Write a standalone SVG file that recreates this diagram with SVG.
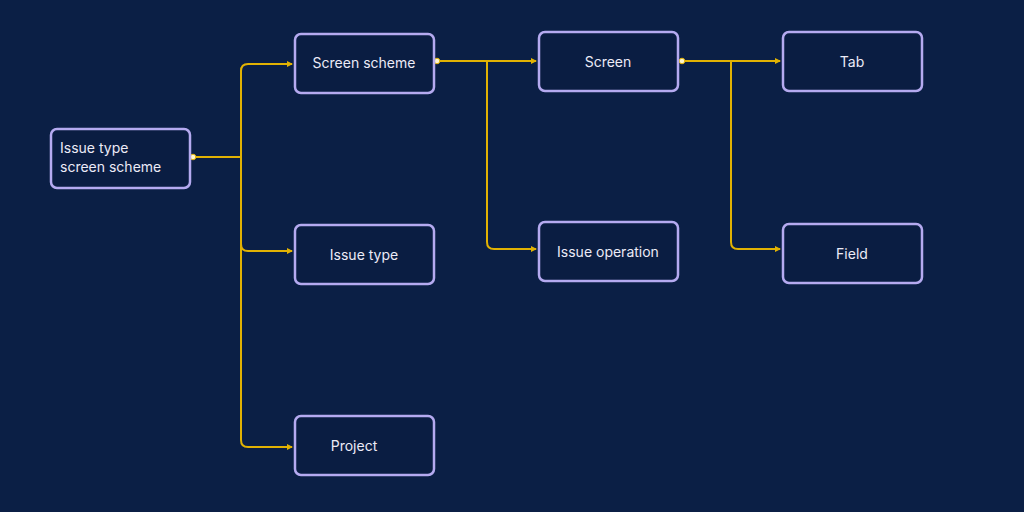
<svg xmlns="http://www.w3.org/2000/svg" width="1024" height="512" viewBox="0 0 1024 512">
<defs>
<marker id="arr" viewBox="0 0 6 6" refX="5" refY="3" markerWidth="6" markerHeight="6" markerUnits="userSpaceOnUse" orient="auto">
<path d="M0,0 L6,3 L0,6 z" fill="#e2b203"/>
</marker>
<style>
.box{fill:#0a1d42;stroke:#b5aaf0;stroke-width:2.5}
.lbl{font-family:Inter,"Noto Sans","Liberation Sans",sans-serif;font-size:14px;fill:#ecebf7}
.mid{text-anchor:middle;dominant-baseline:central}
.ln{fill:none;stroke:#e2b203;stroke-width:2}
.dot{fill:#fff6cc;stroke:#e2b203;stroke-width:1}
</style>
</defs>
<rect width="1024" height="512" fill="#0b1f45"/>
<g id="connectors">
<path class="ln" d="M193,157 H241"/>
<path class="ln" d="M241,157 V71 Q241,64 248,64 H292" marker-end="url(#arr)"/>
<path class="ln" d="M241,157 V244 Q241,251 248,251 H292" marker-end="url(#arr)"/>
<path class="ln" d="M241,157 V440 Q241,447 248,447 H292" marker-end="url(#arr)"/>
<path class="ln" d="M437,61 H536" marker-end="url(#arr)"/>
<path class="ln" d="M487,61 V242 Q487,249 494,249 H536" marker-end="url(#arr)"/>
<path class="ln" d="M682,61 H780" marker-end="url(#arr)"/>
<path class="ln" d="M731,61 V242 Q731,249 738,249 H780" marker-end="url(#arr)"/>
<circle class="dot" cx="193" cy="157" r="2.8"/>
<circle class="dot" cx="437" cy="61" r="2.8"/>
<circle class="dot" cx="682" cy="61" r="2.8"/>
</g>
<g id="node-issue-type-screen-scheme">
<rect class="box" x="51" y="129" width="139" height="59" rx="6"/>
<text class="lbl" x="60" y="153">Issue type</text>
<text class="lbl" x="60" y="172">screen scheme</text>
</g>
<g id="node-screen-scheme">
<rect class="box" x="295" y="34" width="139" height="59" rx="6"/>
<text class="lbl mid" x="364" y="62">Screen scheme</text>
</g>
<g id="node-issue-type">
<rect class="box" x="295" y="225" width="139" height="59" rx="6"/>
<text class="lbl mid" x="364" y="254">Issue type</text>
</g>
<g id="node-project">
<rect class="box" x="295" y="416" width="139" height="59" rx="6"/>
<text class="lbl mid" x="354" y="445">Project</text>
</g>
<g id="node-screen">
<rect class="box" x="539" y="32" width="139" height="59" rx="6"/>
<text class="lbl mid" x="608" y="61">Screen</text>
</g>
<g id="node-issue-operation">
<rect class="box" x="539" y="222" width="139" height="59" rx="6"/>
<text class="lbl mid" x="608" y="251">Issue operation</text>
</g>
<g id="node-tab">
<rect class="box" x="783" y="32" width="139" height="59" rx="6"/>
<text class="lbl mid" x="852" y="61">Tab</text>
</g>
<g id="node-field">
<rect class="box" x="783" y="224" width="139" height="59" rx="6"/>
<text class="lbl mid" x="852" y="253">Field</text>
</g>
</svg>
